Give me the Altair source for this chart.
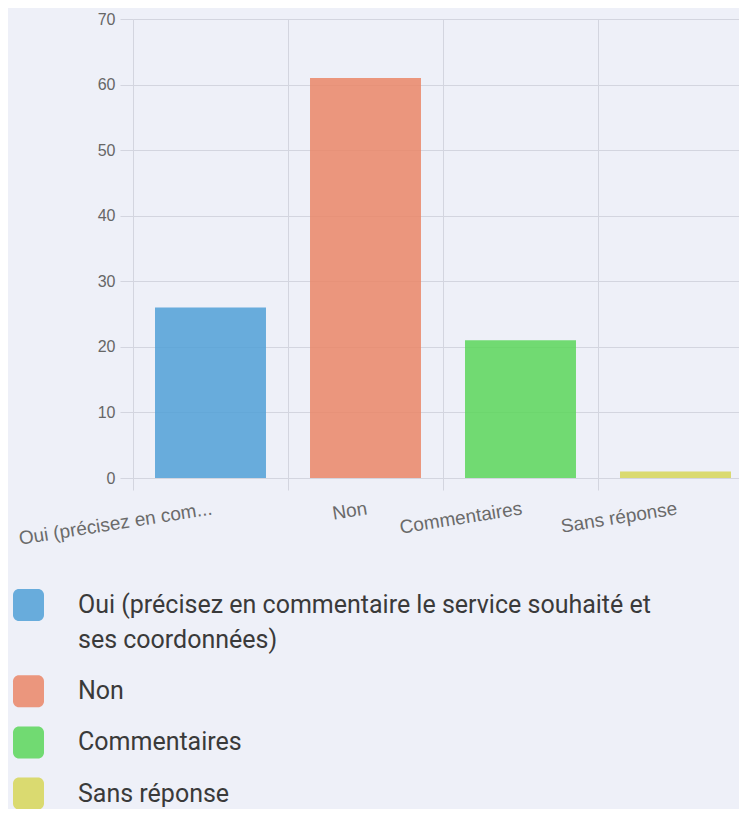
import altair as alt
import pandas as pd

# ---- data ----
short_labels = ["Oui (précisez en com...", "Non", "Commentaires", "Sans réponse"]
counts = [26, 61, 21, 1]
legend_lines = [
    ["Oui (précisez en commentaire le service souhaité et", "ses coordonnées)"],
    ["Non"],
    ["Commentaires"],
    ["Sans réponse"],
]
bar_colors = ["#50a0d7", "#ea8667", "#5ad65b", "#d6d658"]
y_ticks = [0, 10, 20, 30, 40, 50, 60, 70]

# ---- layout constants (pixels) ----
PLOT_W, PLOT_H = 620, 459
LEG_TOP = 570        # top of first legend swatch, relative to plot top
LINE_H = 35
ENTRY_GAP = 16.2
SW_SIZE = 32

bars = pd.DataFrame({"cat": short_labels, "n": counts})

rows_sw, rows_tx = [], []
top = LEG_TOP
for cat, lines in zip(short_labels, legend_lines):
    rows_sw.append({"cat": cat, "y0": top, "y1": top + SW_SIZE})
    for k, line in enumerate(lines):
        rows_tx.append({"cat": cat, "txt": line, "yc": top + SW_SIZE / 2 + LINE_H * k})
    top += LINE_H * len(lines) + ENTRY_GAP
sw_df = pd.DataFrame(rows_sw)
tx_df = pd.DataFrame(rows_tx)

grid_c = "#d3d5df"

color_scale = alt.Scale(domain=short_labels, range=bar_colors)

bar_layer = alt.Chart(bars).mark_bar(
    width=alt.RelativeBandSize(0.716), opacity=0.85
).encode(
    x=alt.X(
        "cat:N",
        sort=short_labels,
        scale=alt.Scale(domain=short_labels, paddingInner=0, paddingOuter=0),
        axis=alt.Axis(
            title=None, bandPosition=0, grid=True, gridColor=grid_c, ticks=True,
            tickColor=grid_c, tickSize=12, domain=False, labelAngle=351,
            labelAlign="right", labelBaseline="top",
            labelPadding=9, labelFont="Liberation Sans", labelFontSize=19,
            labelColor="#6a6a6a", labelOverlap=False, labelLimit=400,
        ),
    ),
    y=alt.Y(
        "n:Q",
        scale=alt.Scale(domain=[0, 70], nice=False),
        axis=alt.Axis(
            title=None, values=y_ticks, grid=True, gridColor=grid_c, tickColor=grid_c,
            tickSize=13, domain=False, labelPadding=5, labelFont="Liberation Sans",
            labelFontSize=16, labelColor="#666666",
        ),
    ),
    color=alt.Color("cat:N", scale=color_scale, legend=None),
)

leg_sw = alt.Chart(sw_df).mark_rect(cornerRadius=6, opacity=0.85).encode(
    x=alt.value(-120),
    x2=alt.value(-89),
    y=alt.Y("y0:Q", scale=None, axis=None),
    y2="y1:Q",
    color=alt.Color("cat:N", scale=color_scale, legend=None),
)

leg_tx = alt.Chart(tx_df).mark_text(
    align="left", baseline="middle", font="Roboto", fontSize=25, color="#3a3a3a"
).encode(
    x=alt.value(-55),
    y=alt.Y("yc:Q", scale=None, axis=None),
    text="txt:N",
)

chart = alt.layer(bar_layer, leg_sw, leg_tx).resolve_scale(y="independent").properties(
    width=PLOT_W,
    height=PLOT_H,
    autosize=alt.AutoSizeParams(type="none"),
    padding={"left": 125, "top": 11, "right": -14, "bottom": 331},
    background="#eef0f8",
).configure_view(stroke=None)

chart.save("out.html", embed_options={"renderer": "svg", "actions": False})
